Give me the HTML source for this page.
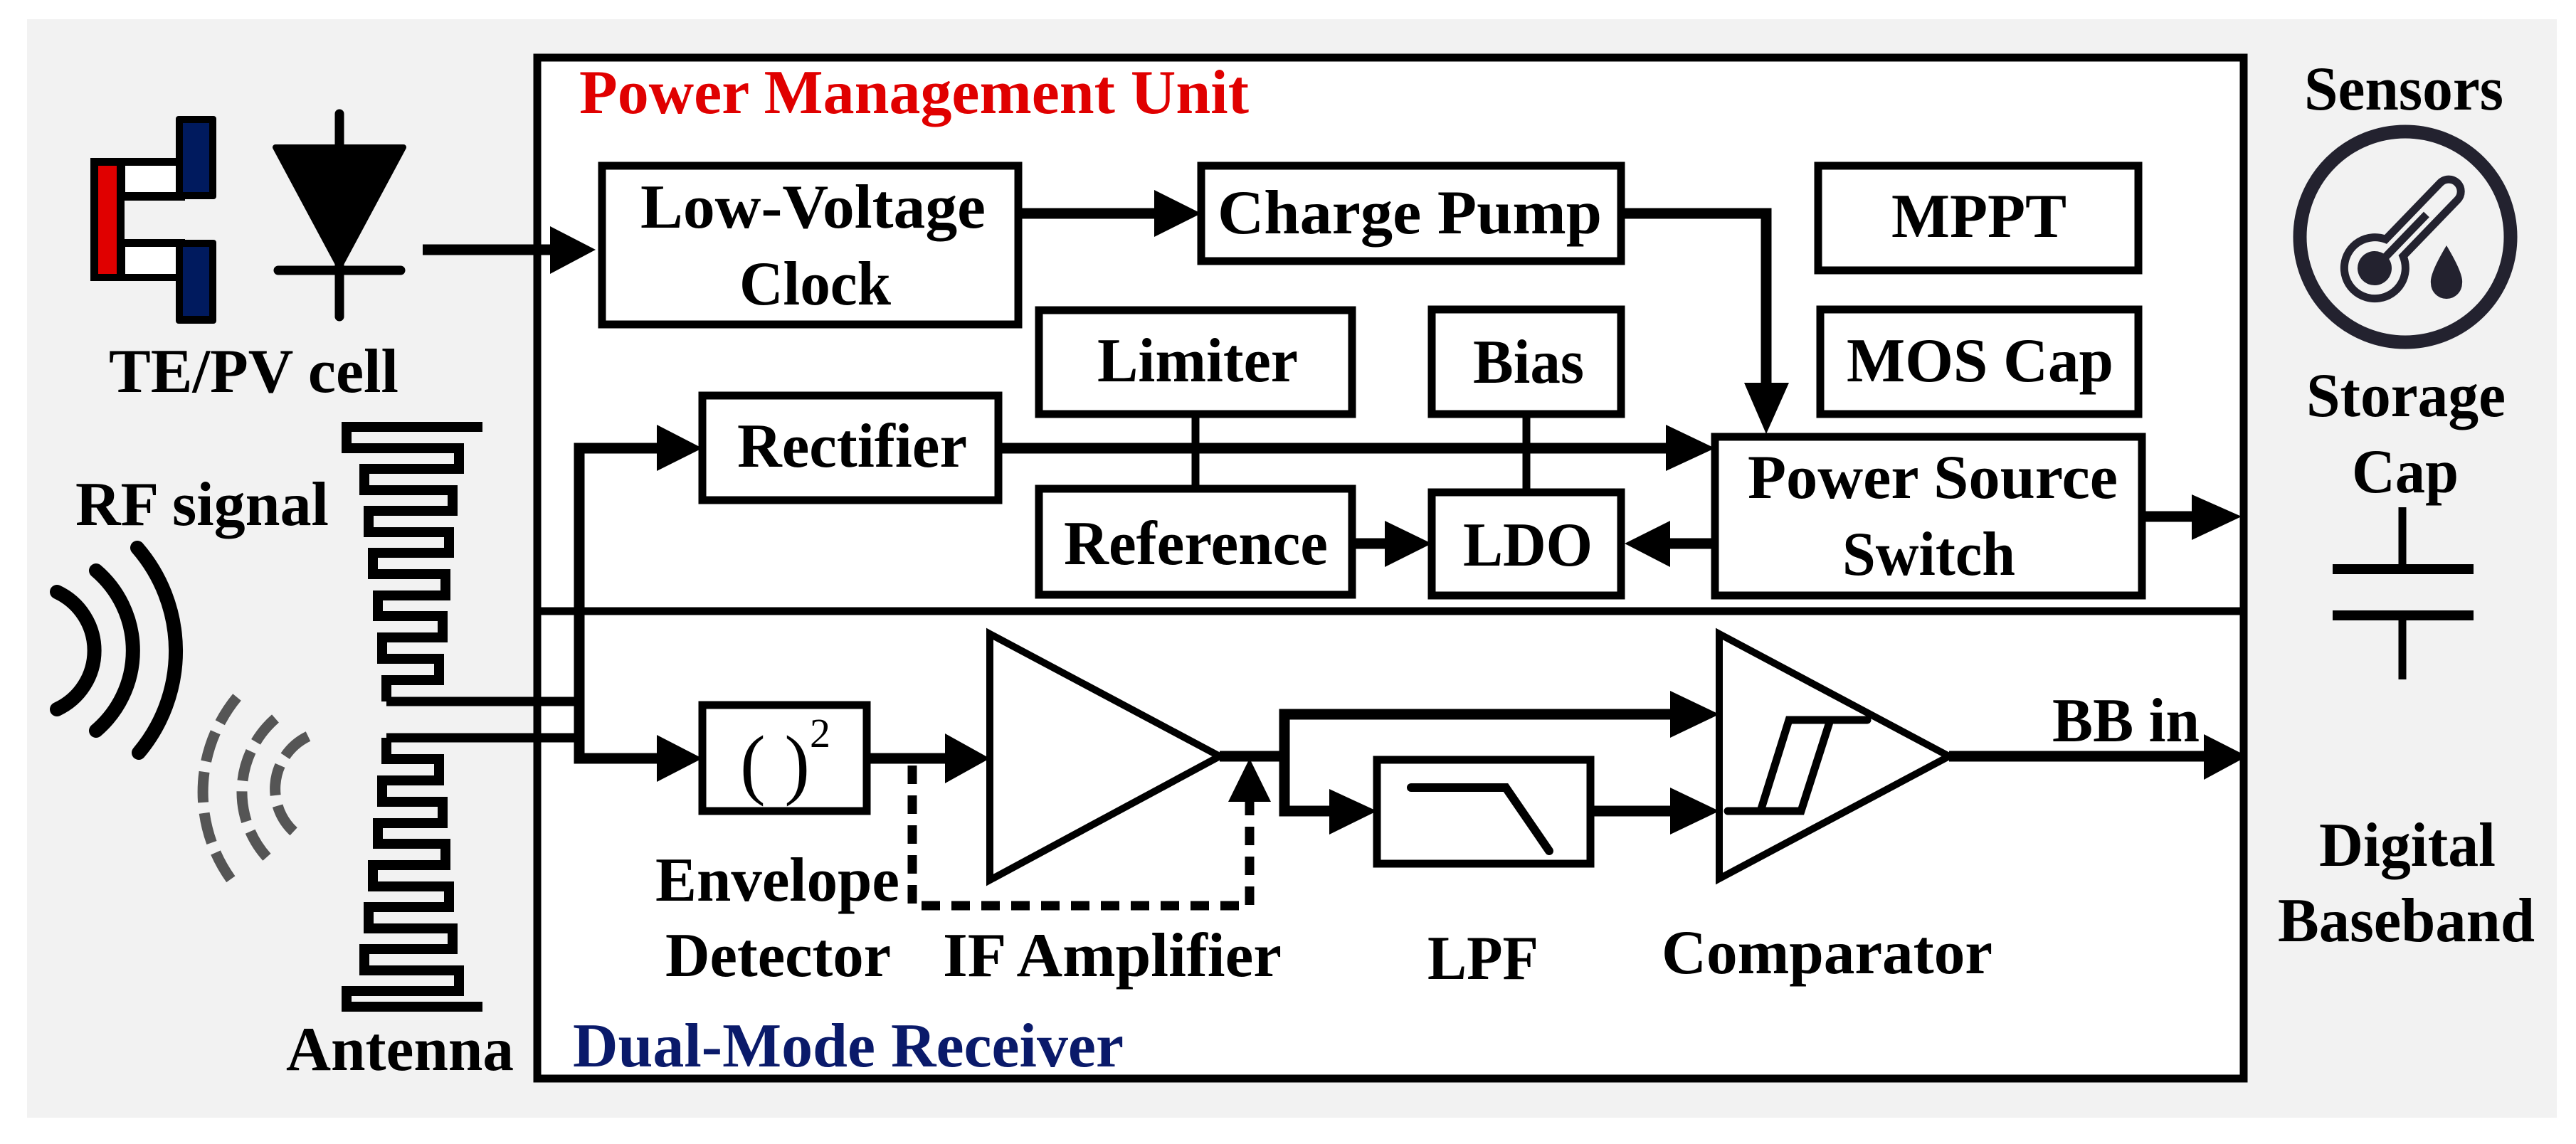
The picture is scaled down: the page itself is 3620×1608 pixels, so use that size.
<!DOCTYPE html>
<html><head><meta charset="utf-8"><style>
html,body{margin:0;padding:0;background:#fff;}
svg{display:block;}
text{font-family:"Liberation Serif",serif;font-weight:bold;fill:#000;}
</style></head><body>
<svg width="3620" height="1608" viewBox="0 0 3620 1608" xmlns="http://www.w3.org/2000/svg">
<rect x="38" y="27" width="3555" height="1544" fill="#f2f2f2"/>
<rect x="755" y="81" width="2398" height="1435" fill="#fff" stroke="#000" stroke-width="11"/>
<line x1="755" y1="859" x2="3153" y2="859" stroke="#000" stroke-width="11"/>

<g font-size="88">
<text x="814" y="159" style="fill:#e00000" textLength="941" lengthAdjust="spacingAndGlyphs">Power Management Unit</text>
<text x="805" y="1499" style="fill:#0a1a6a" textLength="774" lengthAdjust="spacingAndGlyphs">Dual-Mode Receiver</text>
</g>

<g fill="#fff" stroke="#000" stroke-width="11">
<rect x="846" y="233" width="585" height="223"/>
<rect x="1688" y="233" width="590" height="134"/>
<rect x="2555" y="233" width="450" height="147"/>
<rect x="2558" y="435" width="447" height="147"/>
<rect x="1460" y="436" width="440" height="146"/>
<rect x="2012" y="435" width="266" height="147"/>
<rect x="987" y="556" width="416" height="147"/>
<rect x="1460" y="687" width="440" height="149"/>
<rect x="2012" y="692" width="266" height="145"/>
<rect x="2410" y="614" width="600" height="223"/>
<rect x="987" y="991" width="231" height="149"/>
<rect x="1935" y="1068" width="300" height="146"/>
</g>

<g font-size="88">
<text x="900" y="320" textLength="485" lengthAdjust="spacingAndGlyphs">Low-Voltage</text>
<text x="1039" y="428" textLength="213" lengthAdjust="spacingAndGlyphs">Clock</text>
<text x="1711" y="328" textLength="540" lengthAdjust="spacingAndGlyphs">Charge Pump</text>
<text x="2658" y="333" textLength="246" lengthAdjust="spacingAndGlyphs">MPPT</text>
<text x="2595" y="536" textLength="375" lengthAdjust="spacingAndGlyphs">MOS Cap</text>
<text x="1542" y="536" textLength="282" lengthAdjust="spacingAndGlyphs">Limiter</text>
<text x="2070" y="538" textLength="156" lengthAdjust="spacingAndGlyphs">Bias</text>
<text x="1036" y="656" textLength="323" lengthAdjust="spacingAndGlyphs">Rectifier</text>
<text x="1495" y="793" textLength="371" lengthAdjust="spacingAndGlyphs">Reference</text>
<text x="2056" y="795" textLength="182" lengthAdjust="spacingAndGlyphs">LDO</text>
<text x="2456" y="700" textLength="520" lengthAdjust="spacingAndGlyphs">Power Source</text>
<text x="2589" y="808" textLength="243" lengthAdjust="spacingAndGlyphs">Switch</text>
<text x="3238" y="154" textLength="280" lengthAdjust="spacingAndGlyphs">Sensors</text>
<text x="3241" y="585" textLength="280" lengthAdjust="spacingAndGlyphs">Storage</text>
<text x="3305" y="692" textLength="150" lengthAdjust="spacingAndGlyphs">Cap</text>
<text x="3259" y="1217" textLength="248" lengthAdjust="spacingAndGlyphs">Digital</text>
<text x="3201" y="1323" textLength="361" lengthAdjust="spacingAndGlyphs">Baseband</text>
<text x="153" y="551" textLength="407" lengthAdjust="spacingAndGlyphs">TE/PV cell</text>
<text x="106" y="738" textLength="356" lengthAdjust="spacingAndGlyphs">RF signal</text>
<text x="402" y="1504" textLength="320" lengthAdjust="spacingAndGlyphs">Antenna</text>
<text x="921" y="1266" textLength="343" lengthAdjust="spacingAndGlyphs">Envelope</text>
<text x="935" y="1372" textLength="317" lengthAdjust="spacingAndGlyphs">Detector</text>
<text x="1325" y="1372" textLength="476" lengthAdjust="spacingAndGlyphs">IF Amplifier</text>
<text x="2006" y="1376" textLength="156" lengthAdjust="spacingAndGlyphs">LPF</text>
<text x="2335" y="1368" textLength="465" lengthAdjust="spacingAndGlyphs">Comparator</text>
<text x="2884" y="1042" textLength="207" lengthAdjust="spacingAndGlyphs">BB in</text>
</g>
<text x="1040" y="1110" font-size="110" style="font-weight:normal" textLength="98" lengthAdjust="spacingAndGlyphs">( )</text>
<text x="1138" y="1050" font-size="58" style="font-weight:normal">2</text>

<g stroke="#000" stroke-width="15" fill="none">
<line x1="594" y1="351" x2="780" y2="351"/>
<line x1="1431" y1="300" x2="1630" y2="300"/>
<polyline points="2278,300 2482,300 2482,545"/>
<line x1="1403" y1="630" x2="2350" y2="630"/>
<polyline points="935,630 814,630 814,1066 930,1066"/>
<line x1="543" y1="986" x2="814" y2="986" stroke-width="13"/>
<line x1="543" y1="1037" x2="814" y2="1037" stroke-width="13"/>
<line x1="1218" y1="1066" x2="1335" y2="1066"/>
<line x1="1714" y1="1063" x2="1805" y2="1063"/>
<polyline points="2355,1004 1805,1004 1805,1140 1875,1140"/>
<line x1="2235" y1="1140" x2="2355" y2="1140"/>
<line x1="2739" y1="1063" x2="3100" y2="1063"/>
<line x1="3010" y1="726" x2="3085" y2="726"/>
<line x1="2340" y1="764" x2="2410" y2="764"/>
<line x1="1900" y1="764" x2="1950" y2="764"/>
<line x1="1680" y1="582" x2="1680" y2="687" stroke-width="11"/>
<line x1="2145" y1="582" x2="2145" y2="692" stroke-width="11"/>
</g>
<g fill="#000">
<polygon points="773,318 837,351 773,385"/>
<polygon points="1622,267 1688,300 1622,333"/>
<polygon points="2451,538 2514,538 2482,610"/>
<polygon points="2341,597 2410,630 2341,662"/>
<polygon points="923,597 987,630 923,662"/>
<polygon points="923,1033 987,1066 923,1099"/>
<polygon points="1328,1031 1391,1066 1328,1101"/>
<polygon points="1868,1109 1935,1140 1868,1173"/>
<polygon points="2347,971 2416,1004 2347,1037"/>
<polygon points="2347,1107 2416,1140 2347,1173"/>
<polygon points="3097,1032 3158,1063 3097,1096"/>
<polygon points="3080,695 3150,726 3080,759"/>
<polygon points="2347,732 2283,764 2347,797"/>
<polygon points="1946,732 2012,764 1946,797"/>
<polygon points="1726,1127 1756,1066 1786,1127"/>
</g>
<polyline points="1282,1076 1282,1273 1756,1273 1756,1127" fill="none" stroke="#000" stroke-width="13" stroke-dasharray="26,16"/>
<polygon points="1391,891 1391,1237 1714,1063" fill="#fff" stroke="#000" stroke-width="10"/>
<polygon points="2416,891 2416,1235 2739,1063" fill="#fff" stroke="#000" stroke-width="10"/>
<g stroke="#000" stroke-width="11" fill="none" stroke-linecap="round">
<polyline points="2428,1140 2531,1140 2572,1012"/>
<polyline points="2474,1140 2514,1012 2624,1012"/>
<polyline points="1983,1107 2116,1107 2177,1196" stroke-width="12"/>
</g>

<g stroke="#000" fill="none">
<line x1="3376" y1="713" x2="3376" y2="800" stroke-width="11"/>
<line x1="3278" y1="800" x2="3476" y2="800" stroke-width="14"/>
<line x1="3278" y1="865" x2="3476" y2="865" stroke-width="14"/>
<line x1="3376" y1="865" x2="3376" y2="955" stroke-width="11"/>
</g>

<circle cx="3380" cy="333" r="148" fill="none" stroke="#23222f" stroke-width="19"/>
<g transform="translate(3337,377) rotate(44)">
<path d="M -17 -40 L -17 -150 A 17 17 0 0 1 17 -150 L 17 -40 A 43 43 0 1 1 -17 -40 Z" fill="none" stroke="#23222f" stroke-width="11"/>
<circle cx="0" cy="0" r="24" fill="#23222f"/>
<line x1="0" y1="-10" x2="0" y2="-105" stroke="#23222f" stroke-width="11"/>
</g>
<path d="M 3438 345 Q 3462 385 3460 398 A 22 22 0 0 1 3416 398 Q 3414 385 3438 345 Z" fill="#23222f"/>

<rect x="127" y="222" width="48" height="173" fill="#000"/>
<rect x="138" y="233" width="26" height="152" fill="#e00000"/>
<rect x="170" y="222" width="90" height="60" fill="#000"/>
<rect x="176" y="233" width="71" height="37" fill="#fff"/>
<rect x="170" y="336" width="90" height="59" fill="#000"/>
<rect x="176" y="347" width="71" height="38" fill="#fff"/>
<rect x="247" y="163" width="57" height="117" fill="#000" rx="4"/>
<rect x="257" y="173" width="37" height="97" fill="#001a5e"/>
<rect x="247" y="337" width="57" height="118" fill="#000" rx="4"/>
<rect x="257" y="347" width="37" height="97" fill="#001a5e"/>
<polygon points="387,207 567,207 477,375" fill="#000" stroke="#000" stroke-width="8" stroke-linejoin="round"/>
<line x1="391" y1="380" x2="563" y2="380" stroke="#000" stroke-width="13" stroke-linecap="round"/>
<line x1="477" y1="160" x2="477" y2="445" stroke="#000" stroke-width="13" stroke-linecap="round"/>

<g fill="none" stroke="#000" stroke-width="20" stroke-linecap="round">
<path d="M 80 832 A 91 91 0 0 1 80 997"/>
<path d="M 135 802 A 148 148 0 0 1 135 1027"/>
<path d="M 193 770 A 222 222 0 0 1 195 1058"/>
</g>
<g fill="none" stroke="#555" stroke-width="15" stroke-dasharray="43,15">
<path d="M 333 980 A 210 210 0 0 0 333 1247"/>
<path d="M 387 1010 A 137 137 0 0 0 383 1213"/>
<path d="M 433 1035 A 82 82 0 0 0 423 1177"/>
</g>

<g fill="none" stroke="#000" stroke-width="14" stroke-linejoin="miter">
<polyline points="543,986 543,956 617,956 617,926 537,926 537,896 622,896 622,866 531,866 531,837 626,837 626,807 524,807 524,777 631,777 631,748 518,748 518,718 636,718 636,689 512,689 512,659 645,659 645,630 487,630 487,600 678,600"/>
<polyline points="543,1037 543,1067 617,1067 617,1097 537,1097 537,1127 622,1127 622,1157 531,1157 531,1186 626,1186 626,1216 524,1216 524,1246 631,1246 631,1275 518,1275 518,1305 636,1305 636,1334 512,1334 512,1364 645,1364 645,1393 487,1393 487,1415 678,1415"/>
</g>
</svg>
</body></html>
